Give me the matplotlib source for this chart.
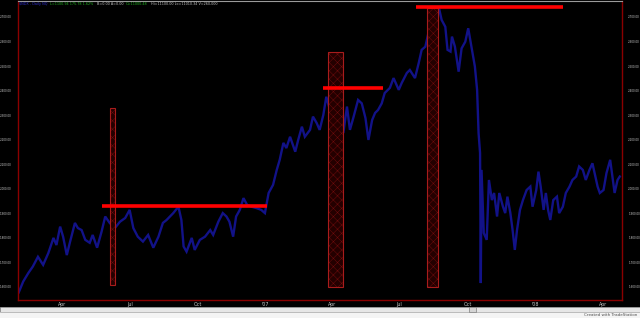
import matplotlib
matplotlib.use("Agg")
import matplotlib.pyplot as plt
import matplotlib.dates as mdates
from matplotlib.patches import Rectangle
import pandas as pd

# price track, every few bars
dates = [
    "2006-02-01", "2006-02-07", "2006-02-14", "2006-02-20", "2006-02-27", "2006-03-06",
    "2006-03-13", "2006-03-20", "2006-03-24", "2006-03-29", "2006-04-02", "2006-04-07",
    "2006-04-11", "2006-04-18", "2006-04-22", "2006-04-27", "2006-05-02", "2006-05-08",
    "2006-05-12", "2006-05-18", "2006-05-24", "2006-05-29", "2006-06-04", "2006-06-11",
    "2006-06-18", "2006-06-25", "2006-07-01", "2006-07-06", "2006-07-12", "2006-07-19",
    "2006-07-26", "2006-08-02", "2006-08-09", "2006-08-15", "2006-08-20", "2006-08-29",
    "2006-09-05", "2006-09-09", "2006-09-12", "2006-09-16", "2006-09-23", "2006-09-27",
    "2006-10-04", "2006-10-11", "2006-10-18", "2006-10-22", "2006-10-29", "2006-11-04",
    "2006-11-09", "2006-11-13", "2006-11-18", "2006-11-22", "2006-11-27", "2006-12-02",
    "2006-12-07", "2006-12-13", "2006-12-20", "2006-12-26", "2006-12-31", "2007-01-05",
    "2007-01-11", "2007-01-16", "2007-01-20", "2007-01-25", "2007-01-29", "2007-02-03",
    "2007-02-10", "2007-02-14", "2007-02-19", "2007-02-23", "2007-03-02", "2007-03-06",
    "2007-03-11", "2007-03-15", "2007-03-20", "2007-03-24", "2007-03-29", "2007-04-03",
    "2007-04-06", "2007-04-09", "2007-04-14", "2007-04-16", "2007-04-21", "2007-04-25",
    "2007-04-30", "2007-05-06", "2007-05-11", "2007-05-16", "2007-05-20", "2007-05-25",
    "2007-05-29", "2007-06-02", "2007-06-07", "2007-06-11", "2007-06-18", "2007-06-23",
    "2007-06-30", "2007-07-04", "2007-07-11", "2007-07-15", "2007-07-22", "2007-07-27",
    "2007-07-31", "2007-08-05", "2007-08-09", "2007-08-14", "2007-08-18", "2007-08-23",
    "2007-08-27", "2007-09-01", "2007-09-04", "2007-09-08", "2007-09-10", "2007-09-14",
    "2007-09-19", "2007-09-23", "2007-09-28", "2007-10-02", "2007-10-07", "2007-10-11",
    "2007-10-14", "2007-10-16", "2007-10-18", "2007-10-19", "2007-10-20", "2007-10-23",
    "2007-10-27", "2007-10-30", "2007-11-03", "2007-11-06", "2007-11-10", "2007-11-13",
    "2007-11-18", "2007-11-21", "2007-11-24", "2007-11-28", "2007-12-01", "2007-12-04",
    "2007-12-07", "2007-12-11", "2007-12-15", "2007-12-20", "2007-12-25", "2007-12-28",
    "2008-01-02", "2008-01-05", "2008-01-08", "2008-01-12", "2008-01-15", "2008-01-18",
    "2008-01-21", "2008-01-25", "2008-01-30", "2008-02-02", "2008-02-07", "2008-02-11",
    "2008-02-16", "2008-02-20", "2008-02-25", "2008-02-29", "2008-03-05", "2008-03-09",
    "2008-03-14", "2008-03-18", "2008-03-21", "2008-03-25", "2008-03-28", "2008-04-02",
    "2008-04-06", "2008-04-11", "2008-04-14", "2008-04-17", "2008-04-21", "2008-04-24",
]
prices = [
    1578, 1622, 1657, 1683, 1723, 1690,
    1738, 1800, 1771, 1846, 1805, 1730,
    1779, 1861, 1840, 1832, 1792, 1780,
    1812, 1760, 1825, 1887, 1861, 1840,
    1866, 1881, 1914, 1840, 1805, 1785,
    1812, 1760, 1805, 1861, 1873, 1901,
    1927, 1873, 1765, 1744, 1800, 1751,
    1792, 1805, 1832, 1812, 1866, 1901,
    1887, 1866, 1805, 1887, 1914, 1962,
    1934, 1927, 1921, 1914, 1901, 1983,
    2016, 2077, 2118, 2187, 2166, 2212,
    2151, 2199, 2253, 2212, 2240, 2294,
    2268, 2240, 2301, 2375, 2321, 2390,
    2423, 2362, 2321, 2227, 2335, 2240,
    2294, 2362, 2348, 2288, 2199, 2280,
    2309, 2321, 2348, 2390, 2411, 2451,
    2403, 2431, 2472, 2484, 2451, 2512,
    2566, 2579, 2633, 2708, 2647, 2742,
    2688, 2660, 2566, 2559, 2620, 2579,
    2477, 2572, 2599, 2654, 2566, 2498,
    2403, 2227, 2146, 1616, 2077, 1820,
    1792, 2036, 1954, 1983, 1887, 1983,
    1927, 1901, 1968, 1901, 1832, 1751,
    1832, 1914, 1954, 1995, 2009, 1927,
    1995, 2070, 2009, 1914, 1983, 1914,
    1873, 1954, 1968, 1901, 1927, 1983,
    2009, 2036, 2050, 2091, 2077, 2036,
    2077, 2104, 2064, 2009, 1983, 1995,
    2064, 2118, 2050, 1983, 2036, 2050,
]

# resistance lines drawn on the chart
line_levels = [1930, 2409, 2741]
line_starts = ["2006-05-25", "2007-03-20", "2007-07-24"]
line_ends = ["2007-01-03", "2007-06-09", "2008-02-07"]

# highlighted boxes
box_starts = ["2006-06-05", "2007-03-26", "2007-08-07"]
box_ends = ["2006-06-11", "2007-04-16", "2007-08-22"]
box_lows = [1608, 1601, 1599]
box_highs = [2329, 2559, 2735]

y_ticks = [1600, 1700, 1800, 1900, 2000, 2100, 2200, 2300, 2400, 2500, 2600, 2700]
x_tick_dates = ["2006-04-01", "2006-07-01", "2006-10-01", "2007-01-01", "2007-04-01",
                "2007-07-01", "2007-10-01", "2008-01-01", "2008-04-01"]
x_tick_labels = ["Apr", "Jul", "Oct", "'07", "Apr", "Jul", "Oct", "'08", "Apr"]

header_parts = ["$NDX - Daily NQ", "L=1100.94 175.78 1.62%", "B=0.00 A=0.00",
                "O=11000.48", "Hi=11100.00 Lo=11010.34 V=260,000"]
header_colors = ["#3030d0", "#20b020", "#c0c0c0", "#20b020", "#c0c0c0"]

W, H = 640, 318


def fx(px):
    return px / W


def fy(py):
    return 1 - py / H


def main():
    plt.rcParams["hatch.linewidth"] = 0.35
    fig = plt.figure(figsize=(6.4, 3.18), dpi=100, facecolor="black")
    ax = fig.add_axes([fx(18), fy(300), fx(622) - fx(18), fy(1) - fy(300)])
    ax.set_facecolor("black")

    d = pd.to_datetime(dates)
    ax.plot(d, prices, color="#121288", lw=1.7, solid_joinstyle="miter")

    for lvl, s, e in zip(line_levels, line_starts, line_ends):
        ax.hlines(lvl, pd.Timestamp(s), pd.Timestamp(e), color="#ff0000", lw=2.6, zorder=4)

    for s, e, lo, hi in zip(box_starts, box_ends, box_lows, box_highs):
        x0 = mdates.date2num(pd.Timestamp(s))
        x1 = mdates.date2num(pd.Timestamp(e))
        # hatched fill, then a separate outline
        ax.bar(x0, hi - lo, width=x1 - x0, bottom=lo, align="edge",
               facecolor="#240000", edgecolor="#6e0c0c", hatch="xxxx", lw=0, zorder=3)
        ax.bar(x0, hi - lo, width=x1 - x0, bottom=lo, align="edge",
               facecolor="none", edgecolor="#a81c1c", lw=0.8, zorder=3)

    ax.set_xlim(pd.Timestamp("2006-01-31"), pd.Timestamp("2008-04-27"))
    ax.set_ylim(1547, 2765)

    ax.set_yticks(y_ticks)
    ax.set_yticklabels([f"{v:,.2f}" for v in y_ticks])
    ax.set_xticks(pd.to_datetime(x_tick_dates))
    ax.set_xticklabels(x_tick_labels)
    ax.tick_params(axis="y", left=False, right=False, labelleft=True, labelright=True,
                   labelsize=3.0, labelcolor="#c8c8c8", pad=1.0)
    ax.tick_params(axis="x", length=0, labelsize=3.4, labelcolor="#c8c8c8", pad=1.5)

    for side in ["left", "right", "bottom"]:
        ax.spines[side].set_color("#8a0000")
        ax.spines[side].set_linewidth(1.0)
    ax.spines["top"].set_color("#9a9a9a")
    ax.spines["top"].set_linewidth(0.8)

    # shrink the price labels so they fit in the narrow margins
    fig.canvas.draw()
    r = fig.canvas.get_renderer()
    widest = max(t.get_window_extent(r).width for t in ax.get_yticklabels())
    ax.tick_params(axis="y", labelsize=3.0 * min(1.0, 12.0 / widest))

    # header line, pieces set one after another, scaled to end near x=212
    texts = []
    for txt, col in zip(header_parts, header_colors):
        texts.append(fig.text(0, fy(4), txt, color=col, fontsize=3.0,
                              va="center", ha="left"))
    fig.canvas.draw()
    total = sum(t.get_window_extent(r).width for t in texts) + 3 * (len(texts) - 1)
    size = 3.0 * min(1.0, (212 - 19) / total)
    x = 19
    for t in texts:
        t.set_fontsize(size)
        t.set_x(fx(x))
        fig.canvas.draw()
        x = t.get_window_extent(r).x1 + 3

    # bottom scroll strip and footer
    fig.add_artist(Rectangle((0, 0), 1, 6 / H, transform=fig.transFigure,
                             facecolor="#f4f4f4", edgecolor="none"))
    fig.add_artist(Rectangle((0, fy(312)), 1, 5 / H, transform=fig.transFigure,
                             facecolor="#e6e6e6", edgecolor="#a8a8a8", lw=0.5))
    fig.add_artist(Rectangle((fx(469), fy(312)), 7 / W, 5 / H, transform=fig.transFigure,
                             facecolor="#d4d4d4", edgecolor="#808080", lw=0.5))
    fig.text(fx(637), fy(315.5), "Created with TradeStation", color="#505050",
             fontsize=3.0, ha="right", va="center")

    fig.savefig("out.png", dpi=100, facecolor="black")


if __name__ == "__main__":
    main()
